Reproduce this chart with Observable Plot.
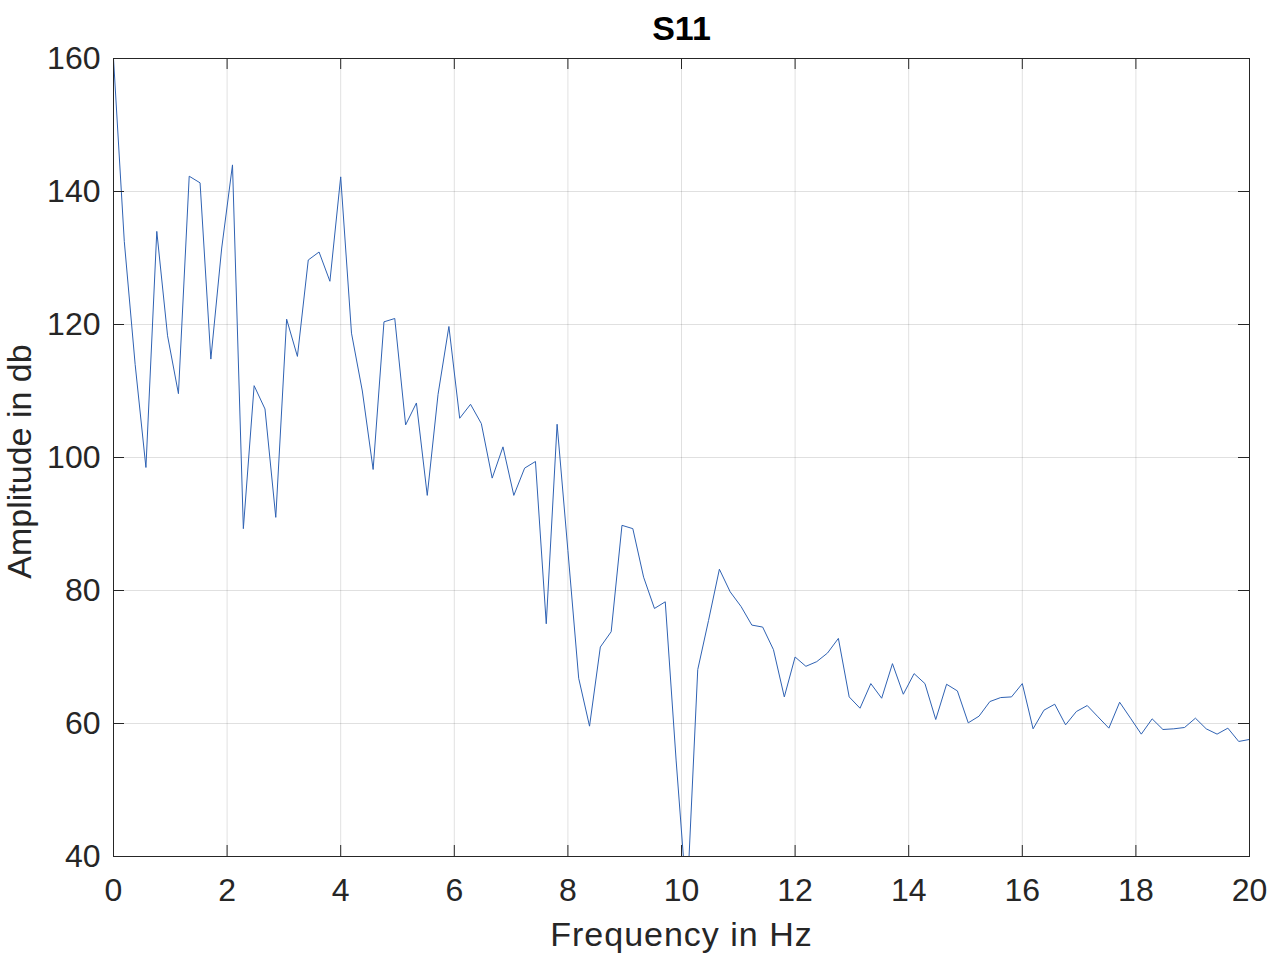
<!DOCTYPE html>
<html>
<head>
<meta charset="utf-8">
<script src="https://cdn.jsdelivr.net/npm/d3@7"></script>
<script src="https://cdn.jsdelivr.net/npm/@observablehq/plot@0.6"></script>
<style>
  html, body { margin: 0; padding: 0; background: #fff; }
  #chart svg { display: block; }
  #chart svg text.xlabel { letter-spacing: 1px; }
</style>
</head>
<body>
<div id="chart"></div>
<script>
// Frequency bins (Hz)
const frequency = [
  0.000, 0.190, 0.381, 0.571, 0.762, 0.952, 1.143, 1.333, 1.524, 1.714, 1.905,
  2.095, 2.286, 2.476, 2.667, 2.857, 3.048, 3.238, 3.429, 3.619, 3.810, 4.000,
  4.190, 4.381, 4.571, 4.762, 4.952, 5.143, 5.333, 5.524, 5.714, 5.905, 6.095,
  6.286, 6.476, 6.667, 6.857, 7.048, 7.238, 7.429, 7.619, 7.810, 8.000,
  8.190, 8.381, 8.571, 8.762, 8.952, 9.143, 9.333, 9.524, 9.714, 9.905, 10.095,
  10.286, 10.476, 10.667, 10.857, 11.048, 11.238, 11.429, 11.619, 11.810, 12.000,
  12.190, 12.381, 12.571, 12.762, 12.952, 13.143, 13.333, 13.524, 13.714, 13.905,
  14.095, 14.286, 14.476, 14.667, 14.857, 15.048, 15.238, 15.429, 15.619, 15.810, 16.000,
  16.190, 16.381, 16.571, 16.762, 16.952, 17.143, 17.333, 17.524, 17.714, 17.905,
  18.095, 18.286, 18.476, 18.667, 18.857, 19.048, 19.238, 19.429, 19.619, 19.810, 20.000
];

// S11 amplitude (db)
const amplitude = [
  160, 132.5, 114, 98.5, 134, 118.3, 109.6, 142.3, 141.3, 114.8, 131.5,
  144, 89.3, 110.8, 107.3, 91, 120.8, 115.2, 129.7, 130.9, 126.5, 142.2,
  118.7, 110, 98.2, 120.4, 120.9, 104.9, 108.2, 94.3, 109.5, 119.7, 105.9,
  108, 105.1, 96.9, 101.6, 94.3, 98.4, 99.4, 75, 105, 86,
  66.8, 59.6, 71.5, 73.8, 89.8, 89.3, 82, 77.3, 78.3, 54.5, 33,
  68.1, 75.5, 83.2, 79.8, 77.6, 74.8, 74.5, 71.1, 64, 70,
  68.6, 69.3, 70.6, 72.8, 64, 62.3, 66, 63.8, 69, 64.4,
  67.5, 66, 60.6, 65.9, 64.9, 60.1, 61.1, 63.3, 63.9, 64, 66,
  59.2, 62, 62.9, 59.8, 61.8, 62.7, 61, 59.3, 63.2, 60.8,
  58.4, 60.7, 59.1, 59.2, 59.4, 60.8, 59.2, 58.4, 59.3, 57.3, 57.6
];

const xTicks = [0, 2, 4, 6, 8, 10, 12, 14, 16, 18, 20];
const yTicks = [40, 60, 80, 100, 120, 140, 160];

const titleText = "S11";
const xLabel = "Frequency in Hz";
const yLabel = "Amplitude in db";

const W = 1283, H = 963;
const mL = 113, mR = 34, mT = 58, mB = 107;
const plotW = W - mL - mR, plotH = H - mT - mB;
const tickLen = 11;
const axisColor = "#262626";
const font = "'Liberation Sans', Arial, Helvetica, sans-serif";

const data = frequency.map((f, i) => ({f, a: amplitude[i]}));

const chart = Plot.plot({
  width: W,
  height: H,
  marginLeft: mL,
  marginRight: mR,
  marginTop: mT,
  marginBottom: mB,
  style: {fontFamily: font, background: "#fff", color: axisColor},
  x: {domain: [0, 20]},
  y: {domain: [40, 160]},
  marks: [
    Plot.gridX(xTicks, {stroke: "#000", strokeOpacity: 0.12}),
    Plot.gridY(yTicks, {stroke: "#000", strokeOpacity: 0.12}),
    Plot.line(data, {x: "f", y: "a", stroke: "#2f62b3", strokeWidth: 1, clip: true}),
    Plot.frame({stroke: axisColor, strokeWidth: 1}),
    // inward ticks on all four sides
    Plot.tickX(xTicks, {x: d => d, insetTop: plotH - tickLen, stroke: axisColor}),
    Plot.tickX(xTicks, {x: d => d, insetBottom: plotH - tickLen, stroke: axisColor}),
    Plot.tickY(yTicks, {y: d => d, insetRight: plotW - tickLen, stroke: axisColor}),
    Plot.tickY(yTicks, {y: d => d, insetLeft: plotW - tickLen, stroke: axisColor}),
    Plot.axisX(xTicks, {tickSize: 0, tickPadding: 22, fontSize: 32, label: null, fill: axisColor}),
    Plot.axisY(yTicks, {tickSize: 0, tickPadding: 13, fontSize: 32, label: null, fill: axisColor}),
    Plot.text([titleText], {frameAnchor: "top", lineAnchor: "top", dy: -43, fontSize: 34, fontWeight: "bold", fill: "#000"}),
    Plot.text([xLabel], {frameAnchor: "bottom", textAnchor: "middle", lineAnchor: "top", dy: 65, fontSize: 34, fill: axisColor, className: "xlabel-mark"}),
    Plot.text([yLabel], {frameAnchor: "left", textAnchor: "middle", lineAnchor: "top", rotate: -90, dx: -107, dy: 4, fontSize: 34, fill: axisColor})
  ]
});

d3.select(chart).selectAll("text")
  .filter(function() { return this.textContent === xLabel; })
  .attr("class", "xlabel");

document.getElementById("chart").appendChild(chart);
</script>
</body>
</html>
